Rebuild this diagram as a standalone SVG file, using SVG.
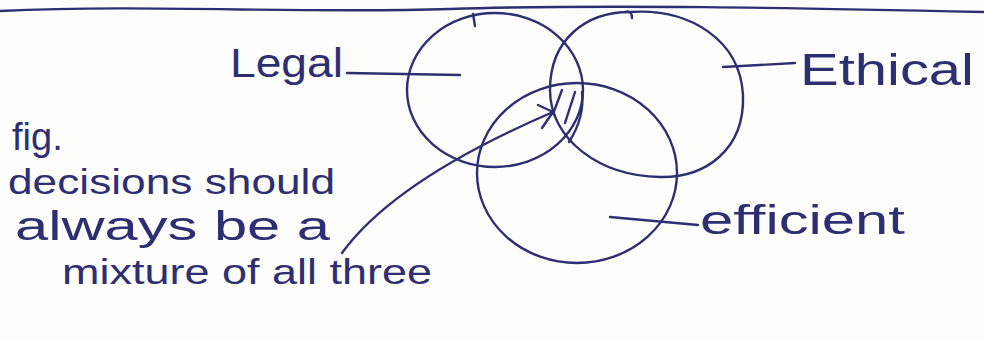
<svg xmlns="http://www.w3.org/2000/svg" width="984" height="340" viewBox="0 0 984 340">
<style>
.ink{fill:none;stroke:#2d2f72;stroke-width:2.4;stroke-linecap:round;stroke-linejoin:round}
.txt{fill:#2d2f72;font-family:"Liberation Sans","DejaVu Sans",sans-serif}
</style>
<rect width="984" height="340" fill="#fdfdfb"/>
<path class="ink" d="M0,11 C150,4 300,14 450,9 S800,8 984,12"/>
<g id="legal">
<ellipse class="ink" cx="495" cy="90" rx="88" ry="77"/>
<path class="ink" d="M473,14 L475,26"/>
<text class="txt" x="230" y="77" font-size="40" textLength="113" lengthAdjust="spacingAndGlyphs">Legal</text>
</g>
<g id="ethical">
<path class="ink" d="M630,12 C690,8 740,40 743,95 C745,150 705,178 660,177 C600,176 550,140 550,90 C550,40 585,12 630,12 Z"/>
<path class="ink" d="M625,12 C630,10 632,14 632,18"/>
<text class="txt" x="800" y="85" font-size="44" textLength="174" lengthAdjust="spacingAndGlyphs">Ethical</text>
</g>
<g id="efficient">
<ellipse class="ink" cx="577" cy="173" rx="100" ry="90"/>
<text class="txt" x="700" y="234" font-size="40" textLength="205" lengthAdjust="spacingAndGlyphs">efficient</text>
</g>
<g id="overlap">
<path class="ink" d="M562,90 L553,114 M575,92 L565,123"/>
<path class="ink" d="M582,92 C584,110 578,128 569,142" stroke-width="3.5" stroke="#3a3fd0"/>
</g>
<g id="note">
<text class="txt" font-size="35">
<tspan x="12" y="150" font-size="38">fig.</tspan>
<tspan x="8" y="194" textLength="327" lengthAdjust="spacingAndGlyphs">decisions should</tspan>
<tspan x="15" y="240" font-size="40" textLength="315" lengthAdjust="spacingAndGlyphs">always be a</tspan>
<tspan x="62" y="284" textLength="370" lengthAdjust="spacingAndGlyphs">mixture of all three</tspan>
</text>
</g>
<g id="connectors">
<path class="ink" d="M347,73 L460,75"/>
<path class="ink" d="M723,67 L795,63"/>
<path class="ink" d="M610,217 L698,225"/>
<path class="ink" d="M342,253 Q395,180 553,112"/>
<path class="ink" d="M538,105 L553,112 L542,128"/>
</g>
</svg>
